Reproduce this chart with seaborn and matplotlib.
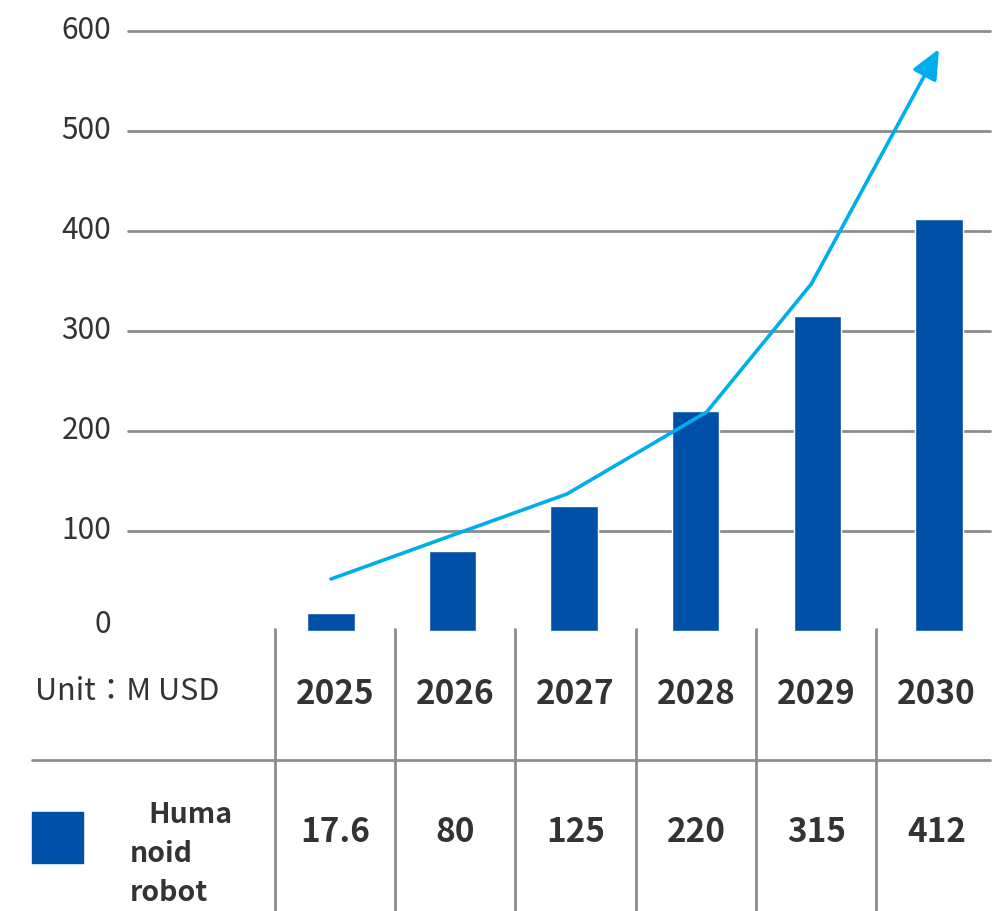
import matplotlib
matplotlib.use("Agg")
import matplotlib.pyplot as plt
import matplotlib.transforms as mtransforms
import numpy as np
import pandas as pd
import seaborn as sns

# Humanoid robot market, million USD
years = ["2025", "2026", "2027", "2028", "2029", "2030"]
values = [17.6, 80, 125, 220, 315, 412]
value_labels = ["17.6", "80", "125", "220", "315", "412"]

# Growth trend arrow (category position, value)
trend_x = [0.0, 1.94, 3.09, 3.95, 5.0]
trend_y = [52, 137, 219, 347, 582]

y_ticks = [0, 100, 200, 300, 400, 500, 600]
unit_text = "Unit：M USD"
series_lines = ["Huma", "noid", "robot"]

BAR = "#0050A8"
LINE = "#00AEEA"
TEXT = "#333333"
GRID = "#8C8C8C"

sns.set_theme(style="white")
plt.rcParams["font.family"] = ["Noto Sans CJK SC", "DejaVu Sans"]

W, H = 1005, 911
fig = plt.figure(figsize=(W / 100, H / 100), dpi=100)
ax = fig.add_axes([128 / W, (H - 631) / H, (990 - 128) / W, 600 / H])

df = pd.DataFrame({"year": years, "value": values})
sns.barplot(data=df, x="year", y="value", color=BAR, saturation=1,
            width=0.39, ax=ax, order=years)

# trend polyline with arrow head on the last segment
sns.lineplot(x=trend_x[:-1], y=trend_y[:-1], color=LINE, lw=2.6, ax=ax,
             sort=False, estimator=None)
ax.annotate("", xy=(trend_x[-1], trend_y[-1]), xytext=(trend_x[-2], trend_y[-2]),
            arrowprops=dict(arrowstyle="-|>,head_length=1.0,head_width=0.45",
                            color=LINE, lw=2.6, mutation_scale=18,
                            shrinkA=0, shrinkB=0))

ax.set_xlim(-1.67, 5.42)
ax.set_ylim(0, 600)
ax.set_xlabel("")
ax.set_ylabel("")
ax.set_xticks([])
ax.set_yticks(y_ticks)
ax.set_yticklabels([str(t) for t in y_ticks], fontsize=21.5, color=TEXT)
ax.tick_params(axis="y", length=0, pad=12)
for k, lbl in enumerate(ax.get_yticklabels()):
    lift = 10 if k == 0 else 4
    lbl.set_transform(lbl.get_transform() +
                      mtransforms.ScaledTranslation(0, lift / 100, fig.dpi_scale_trans))
for s in ax.spines.values():
    s.set_visible(False)

for t in y_ticks[1:]:
    ax.axhline(t, color=GRID, lw=2, zorder=0, clip_on=False)

# ---- data table under the chart ----
blend = mtransforms.blended_transform_factory(ax.transData, fig.transFigure)

def fy(py):
    return 1 - py / H

col_step = 0.99
col_left = -0.464
edges = [col_left + col_step * i for i in range(len(years) + 1)]

for i in range(len(years)):
    ax.plot([edges[i], edges[i]], [fy(629), fy(911)], transform=blend,
            color=GRID, lw=2, clip_on=False)
    cx = (edges[i] + edges[i + 1]) / 2
    fig.text(cx, fy(694), years[i], transform=blend, ha="center",
             va="center", fontsize=24, fontweight="bold", color=TEXT)
    fig.text(cx, fy(833), value_labels[i], transform=blend, ha="center",
             va="center", fontsize=24, fontweight="bold", color=TEXT)

fig.add_artist(plt.Line2D([32 / W, 990 / W], [fy(760), fy(760)], color=GRID, lw=2))

fig.text(35 / W, fy(691), unit_text, ha="left", va="center", fontsize=22,
         color=TEXT, family=["Noto Sans CJK JP", "DejaVu Sans"])

fig.add_artist(plt.Rectangle((32 / W, fy(863)), 51 / W, 51 / H, color=BAR,
                             transform=fig.transFigure))
for txt, py, px in zip(series_lines, [815, 854, 893], [148, 130, 130]):
    fig.text(px / W, fy(py), txt, ha="left", va="center", fontsize=20.5,
             fontweight="bold", color=TEXT)

fig.savefig("out.png", dpi=100)
